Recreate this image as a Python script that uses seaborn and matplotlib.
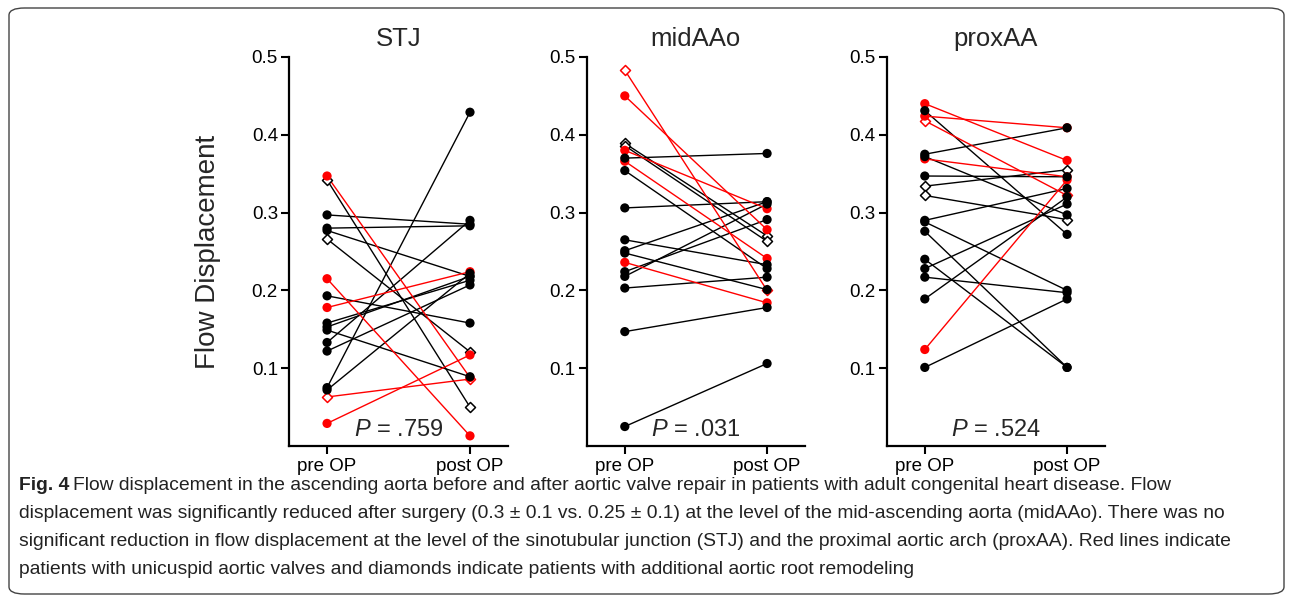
import seaborn as sns
import numpy as np
import pandas as pd
import matplotlib.pyplot as plt
from matplotlib.patches import FancyBboxPatch

# data (pre OP -> post OP, one entry per patient)
stj_pre = [0.347, 0.342, 0.297, 0.280, 0.277, 0.266, 0.215, 0.193, 0.178,
           0.158, 0.153, 0.149, 0.133, 0.122, 0.075, 0.072, 0.063, 0.029]
stj_post = [0.088, 0.050, 0.285, 0.283, 0.218, 0.121, 0.013, 0.158, 0.224,
            0.213, 0.218, 0.089, 0.290, 0.207, 0.429, 0.222, 0.086, 0.117]
stj_red = [1, 0, 0, 0, 0, 0, 1, 0, 1, 0, 0, 0, 0, 0, 0, 0, 1, 1]
stj_diamond = [0, 1, 0, 0, 0, 1, 0, 0, 0, 0, 0, 0, 0, 0, 0, 0, 1, 0]

mid_pre = [0.483, 0.450, 0.380, 0.366, 0.236, 0.389, 0.386, 0.370, 0.354,
           0.306, 0.265, 0.251, 0.248, 0.224, 0.218, 0.203, 0.147, 0.025]
mid_post = [0.200, 0.278, 0.305, 0.241, 0.184, 0.270, 0.263, 0.376, 0.228,
            0.314, 0.233, 0.314, 0.201, 0.291, 0.311, 0.217, 0.178, 0.106]
mid_red = [1, 1, 1, 1, 1, 0, 0, 0, 0, 0, 0, 0, 0, 0, 0, 0, 0, 0]
mid_diamond = [1, 0, 0, 0, 0, 1, 1, 0, 0, 0, 0, 0, 0, 0, 0, 0, 0, 0]

prox_pre = [0.440, 0.424, 0.418, 0.369, 0.124, 0.431, 0.375, 0.372, 0.347, 0.334,
            0.322, 0.290, 0.288, 0.276, 0.240, 0.228, 0.217, 0.189, 0.101]
prox_post = [0.367, 0.409, 0.322, 0.346, 0.342, 0.272, 0.409, 0.297, 0.346, 0.355,
             0.291, 0.331, 0.200, 0.101, 0.101, 0.311, 0.197, 0.320, 0.189]
prox_red = [1, 1, 1, 1, 1, 0, 0, 0, 0, 0, 0, 0, 0, 0, 0, 0, 0, 0, 0]
prox_diamond = [0, 0, 1, 0, 0, 0, 0, 0, 0, 1, 1, 0, 0, 0, 0, 0, 0, 0, 0]

titles = ["STJ", "midAAo", "proxAA"]
p_values = [".759", ".031", ".524"]
time_labels = ["pre OP", "post OP"]
y_ticks = [0.1, 0.2, 0.3, 0.4, 0.5]

caption = [
    "Flow displacement in the ascending aorta before and after aortic valve repair in patients with adult congenital heart disease. Flow",
    "displacement was significantly reduced after surgery (0.3 \u00b1 0.1 vs. 0.25 \u00b1 0.1) at the level of the mid-ascending aorta (midAAo). There was no",
    "significant reduction in flow displacement at the level of the sinotubular junction (STJ) and the proximal aortic arch (proxAA). Red lines indicate",
    "patients with unicuspid aortic valves and diamonds indicate patients with additional aortic root remodeling",
]
caption_right = [1248, 1228, 1264, 942]   # right end of each caption line (px)

sns.set_style("ticks")
plt.rcParams['font.family'] = ['Liberation Sans', 'DejaVu Sans']
plt.rcParams['mathtext.fontset'] = 'custom'
plt.rcParams['mathtext.it'] = 'Liberation Sans:italic'
plt.rcParams['mathtext.rm'] = 'Liberation Sans'

panels = [(stj_pre, stj_post, stj_red, stj_diamond),
          (mid_pre, mid_post, mid_red, mid_diamond),
          (prox_pre, prox_post, prox_red, prox_diamond)]

fig = plt.figure(figsize=(12.92, 6.03), dpi=100)
lefts = [0.2237, 0.4543, 0.6865]
widths = [0.1695, 0.1687, 0.1687]
pal = {"red": "#ff0000", "black": "black"}

for i, (pre, post, red, dia) in enumerate(panels):
    ax = fig.add_axes([lefts[i], 0.2604, widths[i], 0.6451])
    rows = []
    for k in range(len(pre)):
        g = "red" if red[k] else "black"
        rows.append({"patient": k, "x": 0, "value": pre[k], "group": g, "diamond": dia[k]})
        rows.append({"patient": k, "x": 1, "value": post[k], "group": g, "diamond": dia[k]})
    df = pd.DataFrame(rows)

    sns.lineplot(data=df, x="x", y="value", units="patient", estimator=None,
                 hue="group", hue_order=["black", "red"], palette=pal,
                 lw=1.0, legend=False, sort=False, ax=ax, zorder=2)
    dd = df[df["diamond"] == 1]
    for g in ["black", "red"]:
        sub = dd[dd["group"] == g]
        if len(sub):
            sns.scatterplot(data=sub, x="x", y="value", marker="D", color="white",
                            edgecolor=pal[g], linewidth=1.1, s=26, ax=ax, zorder=3)
    cc = df[df["diamond"] == 0]
    sns.scatterplot(data=cc, x="x", y="value", hue="group", hue_order=["black", "red"],
                    palette=pal, s=44, linewidth=0, legend=False, ax=ax, zorder=4)

    ax.set_xlim(-0.266, 1.266)
    ax.set_ylim(0, 0.5)
    ax.set_xticks([0, 1])
    ax.set_xticklabels(time_labels, fontsize=13.5)
    ax.set_yticks(y_ticks)
    ax.set_yticklabels([f"{t:.1f}" for t in y_ticks], fontsize=13.5)
    ax.tick_params(width=1.5, length=6, pad=2, colors="black")
    ax.tick_params(axis="x", pad=2.5)
    for s in ["left", "bottom"]:
        ax.spines[s].set_linewidth(1.6)
        ax.spines[s].set_color("black")
    sns.despine(ax=ax)
    ax.set_xlabel("")
    ax.set_ylabel("")
    ax.set_title(titles[i], fontsize=18.5, pad=8)
    ax.text(0.5, 0.02, r"$\mathit{P}$ = " + p_values[i], fontsize=17,
            ha="center", va="center")
    if i == 0:
        ax.set_ylabel("Flow Displacement", fontsize=20)
        ax.yaxis.set_label_coords(-0.31, 0.5)

# caption: fit each line's width to the reference line length
renderer = fig.canvas.get_renderer()
ys = [1 - 486 / 603, 1 - 514 / 603, 1 - 542 / 603, 1 - 570 / 603]
base = 15
probe = []
for j in range(4):
    txt = ("Fig. 4 " if j == 0 else "") + caption[j]
    t = fig.text(0, 0, txt, fontsize=base)
    probe.append(t.get_window_extent(renderer).width)
    t.remove()
scale = min((caption_right[j] - 19) / probe[j] for j in range(4))
fs = base * scale

t0 = fig.text(19 / 1292, ys[0], "Fig. 4", fontsize=fs, fontweight="bold",
              color="#222222", va="center")
bb = t0.get_window_extent(renderer)
fig.text((bb.x1 + 4) / 1292, ys[0], caption[0], fontsize=fs,
         color="#222222", va="center")
for j in range(1, 4):
    fig.text(19 / 1292, ys[j], caption[j], fontsize=fs,
             color="#222222", va="center")

# rounded frame
frame = FancyBboxPatch((9 / 1292, 9 / 603), 1275 / 1292, 586 / 603,
                       boxstyle="round,pad=0,rounding_size=0.012",
                       transform=fig.transFigure, fill=False,
                       edgecolor="#444444", lw=1.0)
fig.patches.append(frame)

fig.savefig("out.png", dpi=100)
